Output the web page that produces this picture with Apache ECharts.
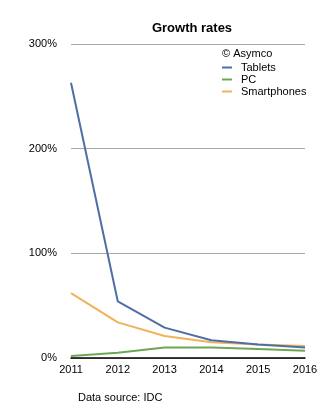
<!DOCTYPE html>
<html><head><meta charset="utf-8">
<script src="https://cdn.jsdelivr.net/npm/echarts@6/dist/echarts.min.js"></script>
<style>html,body{margin:0;padding:0;background:#fff}#c{width:329px;height:411px}</style>
</head><body><div id="c"></div>
<script>
const years = ['2011','2012','2013','2014','2015','2016'];
const tablets = [263, 54, 29, 17, 13, 10];
const pc = [2, 5, 10, 10, 8.5, 7];
const smartphones = [62, 34, 21, 15, 13, 11.5];
const yTicks = [0, 100, 200, 300];

const F = '"Liberation Sans", Arial, Helvetica, sans-serif';
const chart = echarts.init(document.getElementById('c'));
chart.setOption({
  animation: false,
  backgroundColor: '#fff',
  title: { text: 'Growth rates', left: 187, textAlign: 'center', top: 17,
    textStyle: { fontFamily: F, fontSize: 13, fontWeight: 'bold', color: '#000' } },
  legend: {
    orient: 'vertical', left: 222, top: 62, padding: 0, itemWidth: 10, itemHeight: 2, itemGap: 1,
    icon: 'rect', textStyle: { fontFamily: F, fontSize: 11, color: '#000', padding: [0,0,0,4] },
    data: ['Tablets', 'PC', 'Smartphones']
  },
  graphic: [
    { type: 'text', left: 222, top: 48, style: { text: '© Asymco', font: '11px ' + F, fill: '#000' } },
    { type: 'text', left: 78, top: 392, style: { text: 'Data source: IDC', font: '11px ' + F, fill: '#000' } }
  ],
  grid: { left: 71, right: 24, top: 44, bottom: 53 },
  xAxis: {
    type: 'category', data: years, boundaryGap: false,
    axisLine: { lineStyle: { color: '#000', width: 1.5 } },
    axisTick: { show: false },
    axisLabel: { fontFamily: F, fontSize: 11, color: '#000', margin: 6 }
  },
  yAxis: {
    type: 'value', min: 0, max: 300, interval: 100,
    axisLine: { show: false }, axisTick: { show: false },
    axisLabel: { fontFamily: F, fontSize: 11, color: '#000', margin: 14,
      formatter: v => yTicks.includes(v) ? v + '%' : '' },
    splitLine: { lineStyle: { color: '#a8a8a8', width: 1 } }
  },
  series: [
    { name: 'Tablets', type: 'line', data: tablets, symbol: 'none', color: '#4e6fa6', lineStyle: { width: 2 }, z: 4 },
    { name: 'PC', type: 'line', data: pc, symbol: 'none', color: '#6fa655', lineStyle: { width: 2 }, z: 2 },
    { name: 'Smartphones', type: 'line', data: smartphones, symbol: 'none', color: '#f0b25a', lineStyle: { width: 2 }, z: 3 }
  ]
});
</script></body></html>
